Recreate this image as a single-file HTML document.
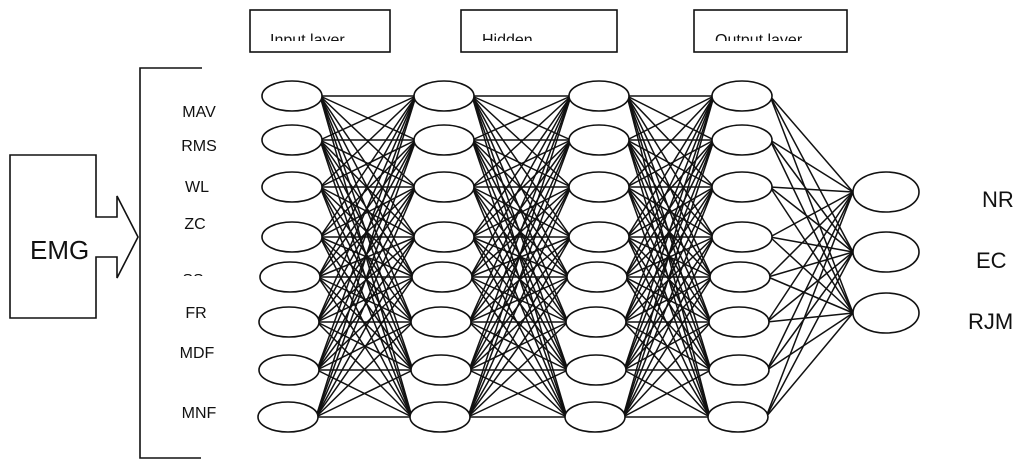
<!DOCTYPE html>
<html><head><meta charset="utf-8"><style>
html,body{margin:0;padding:0;background:#fff;}
svg{display:block;}
text{font-family:"Liberation Sans","DejaVu Sans",sans-serif;fill:#111;}
</style></head><body>
<svg id="s" width="1024" height="469" viewBox="0 0 1024 469" xmlns="http://www.w3.org/2000/svg">
<defs>
<clipPath id="c1"><rect x="0" y="0" width="1024" height="41"/></clipPath>
<clipPath id="c2"><rect x="0" y="0" width="1024" height="276"/></clipPath>
</defs>
<g fill="none" stroke="#111" stroke-width="1.6">
<rect x="250" y="10" width="140" height="42"/>
<rect x="461" y="10" width="156" height="42"/>
<rect x="694" y="10" width="153" height="42"/>
<polygon points="10,155 96,155 96,217 117,217 117,196 138,237 117,278 117,257 96,257 96,318 10,318"/>
<polyline points="202,68 140,68 140,458 201,458"/>
</g>
<g clip-path="url(#c1)" font-size="16">
<text x="270" y="45">Input layer</text>
<text x="482" y="45">Hidden</text>
<text x="715" y="45">Output layer</text>
</g>
<text x="30" y="259" font-size="26">EMG</text>
<g font-size="16" text-anchor="middle">
<text x="199" y="117">MAV</text>
<text x="199" y="151">RMS</text>
<text x="197" y="192">WL</text>
<text x="195" y="229">ZC</text>
<text x="193" y="285" clip-path="url(#c2)">SS</text>
<text x="196" y="318">FR</text>
<text x="197" y="358">MDF</text>
<text x="199" y="418">MNF</text>
</g>
<g font-size="22">
<text x="982" y="207">NR</text>
<text x="976" y="268">EC</text>
<text x="968" y="329">RJM</text>
</g>
<g id="lines" stroke="#111" stroke-width="1.5"></g>
<g id="nodes" fill="#fff" stroke="#111" stroke-width="1.6"></g>
</svg>
<script>
var ys=[96,140,187,237,277,322,370,417];
var L=[292,444,599,742];
var shift=[0,0,0,0,-2,-3,-3,-4];
var ns="http://www.w3.org/2000/svg";
var lines=document.getElementById("lines"),nodes=document.getElementById("nodes");
function ln(x1,y1,x2,y2){var l=document.createElementNS(ns,"line");l.setAttribute("x1",x1);l.setAttribute("y1",y1);l.setAttribute("x2",x2);l.setAttribute("y2",y2);lines.appendChild(l);}
function el(cx,cy,rx,ry){var e=document.createElementNS(ns,"ellipse");e.setAttribute("cx",cx);e.setAttribute("cy",cy);e.setAttribute("rx",rx);e.setAttribute("ry",ry);nodes.appendChild(e);}
for(var k=0;k<3;k++){for(var i=0;i<8;i++)for(var j=0;j<8;j++){ln(L[k]+shift[i]+28,ys[i],L[k+1]+shift[j]-28,ys[j]);}}
var oy=[192,252,313];
for(var i=0;i<8;i++)for(var j=0;j<3;j++)ln(L[3]+shift[i]+28,ys[i],853,oy[j]);
for(var k=0;k<4;k++)for(var i=0;i<8;i++)el(L[k]+shift[i],ys[i],30,15);
for(var j=0;j<3;j++)el(886,oy[j],33,20);
</script>
</body></html>
